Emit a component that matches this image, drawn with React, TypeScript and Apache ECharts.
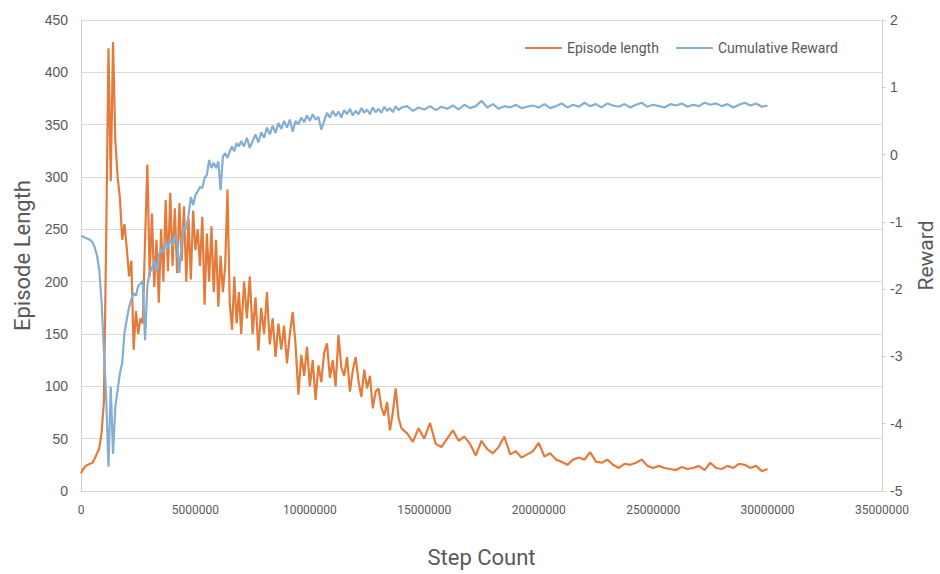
import React, { useEffect, useRef } from "react";
import * as echarts from "echarts";

// Step counts in millions (sampling grid)
const stepsM: number[] = [
  0, 0.1, 0.2, 0.3, 0.4, 0.5, 0.6, 0.7, 0.8, 0.9,
  1.0, 1.1, 1.2, 1.3, 1.4, 1.5, 1.6, 1.7, 1.8, 1.9,
  2.0, 2.1, 2.2, 2.3, 2.4, 2.5, 2.6, 2.7, 2.8, 2.9,
  3.0, 3.1, 3.2, 3.3, 3.4, 3.5, 3.6, 3.7, 3.8, 3.9,
  4.0, 4.1, 4.2, 4.3, 4.4, 4.5, 4.6, 4.7, 4.8, 4.9,
  5.0, 5.1, 5.2, 5.3, 5.4, 5.5, 5.6, 5.7, 5.8, 5.9,
  6.0, 6.1, 6.2, 6.3, 6.4, 6.5, 6.6, 6.7, 6.8, 6.9, 7.0,
  7.125, 7.25, 7.375, 7.5, 7.625, 7.75, 7.875, 8.0,
  8.125, 8.25, 8.375, 8.5, 8.625, 8.75, 8.875, 9.0,
  9.125, 9.25, 9.375, 9.5, 9.625, 9.75, 9.875, 10.0,
  10.125, 10.25, 10.375, 10.5, 10.625, 10.75, 10.875, 11.0,
  11.125, 11.25, 11.375, 11.5, 11.625, 11.75, 11.875, 12.0,
  12.125, 12.25, 12.375, 12.5, 12.625, 12.75, 12.875, 13.0,
  13.125, 13.25, 13.375, 13.5, 13.625, 13.75, 13.875, 14.0,
  14.25, 14.5, 14.75, 15.0, 15.25, 15.5, 15.75, 16.0, 16.25, 16.5,
  16.75, 17.0, 17.25, 17.5, 17.75, 18.0, 18.25, 18.5, 18.75, 19.0,
  19.25, 19.5, 19.75, 20.0, 20.25, 20.5, 20.75, 21.0, 21.25, 21.5,
  21.75, 22.0, 22.25, 22.5, 22.75, 23.0, 23.25, 23.5, 23.75, 24.0,
  24.25, 24.5, 24.75, 25.0, 25.25, 25.5, 25.75, 26.0, 26.25, 26.5,
  26.75, 27.0, 27.25, 27.5, 27.75, 28.0, 28.25, 28.5, 28.75, 29.0,
  29.25, 29.5, 29.75, 30.0,
];

const episodeLength: number[] = [
  17, 21, 24, 25, 26, 27, 31, 36, 41, 56,
  85, 240, 423, 296, 429, 335, 300, 280, 240, 255,
  232, 205, 220, 135, 172, 150, 165, 160, 240, 312,
  205, 265, 195, 240, 180, 250, 200, 278, 210, 285,
  215, 270, 208, 275, 220, 272, 200, 260, 202, 268,
  230, 250, 215, 262, 178, 246, 200, 253, 190, 240,
  176, 225, 190, 215, 288, 179, 154, 205, 160, 190, 150,
  200, 165, 205, 150, 185, 134, 175, 150,
  190, 140, 165, 128, 160, 135, 158, 122,
  150, 171, 140, 92, 130, 110, 138, 100,
  125, 87, 120, 104, 132, 141, 108, 125,
  100, 149, 118, 110, 128, 95, 115, 128,
  105, 90, 116, 98, 110, 79, 95, 98,
  80, 72, 85, 58, 75, 98, 70, 60,
  55, 47, 60, 50, 65, 45, 42, 50, 58, 48,
  52, 45, 34, 48, 40, 36, 42, 52, 35, 38,
  32, 35, 38, 46, 33, 36, 30, 28, 25, 30,
  32, 30, 37, 28, 27, 30, 25, 22, 26, 25,
  27, 30, 24, 22, 24, 22, 21, 20, 23, 21,
  22, 24, 20, 27, 22, 21, 24, 22, 26, 25,
  22, 24, 19, 21,
];

const cumulativeReward: number[] = [
  -1.21, -1.22, -1.24, -1.25, -1.27, -1.3, -1.38, -1.5, -1.72, -2.2,
  -2.9, -3.6, -4.64, -3.45, -4.45, -3.75, -3.5, -3.25, -3.1, -2.65,
  -2.45, -2.27, -2.15, -2.06, -2.1, -1.95, -1.92, -1.88, -2.76, -1.95,
  -1.75, -1.7, -1.57, -1.75, -1.5, -1.4, -1.45, -1.31, -1.4, -1.25,
  -1.35, -1.2, -1.3, -1.76, -1.3, -1.07, -1.1, -0.9, -0.63, -0.75,
  -0.6, -0.55, -0.48, -0.5, -0.35, -0.3, -0.08, -0.2, -0.12, -0.2,
  -0.1, -0.53, -0.03, 0.02, -0.05, 0.05, 0.12, 0.05, 0.17, 0.12, 0.2,
  0.12, 0.25, 0.1, 0.2, 0.3, 0.18, 0.33, 0.25,
  0.4, 0.3, 0.43, 0.32, 0.47, 0.38, 0.5, 0.4,
  0.52, 0.34, 0.5, 0.45, 0.55, 0.48, 0.58, 0.5,
  0.6, 0.52, 0.56, 0.37, 0.5, 0.62, 0.55, 0.65,
  0.57, 0.64, 0.55, 0.66, 0.6, 0.68, 0.58, 0.65,
  0.6, 0.69, 0.62, 0.67, 0.6, 0.7, 0.63, 0.68,
  0.62, 0.71, 0.65, 0.69, 0.63, 0.72, 0.66, 0.7,
  0.72, 0.65, 0.7, 0.67, 0.72, 0.66, 0.71, 0.68, 0.73, 0.67,
  0.74, 0.69, 0.72, 0.8, 0.7, 0.75, 0.68, 0.72, 0.7, 0.74,
  0.69, 0.71, 0.73, 0.7, 0.75, 0.69, 0.72, 0.76, 0.7, 0.74,
  0.71, 0.77, 0.72, 0.75, 0.7, 0.76, 0.73, 0.71, 0.75, 0.7,
  0.74, 0.77, 0.71, 0.74, 0.72, 0.7, 0.75, 0.73, 0.76, 0.71,
  0.74, 0.72, 0.77, 0.74, 0.76, 0.72, 0.75, 0.7, 0.74, 0.77,
  0.73, 0.76, 0.71, 0.73,
];

const seriesNames = ["Episode length", "Cumulative Reward"];
const axisNames = { x: "Step Count", left: "Episode Length", right: "Reward" };

const NARROW = "'Liberation Sans Narrow', 'Arial Narrow', 'Roboto', sans-serif";
const LABEL = "'Liberation Sans', 'Noto Sans', sans-serif";

export default function App() {
  const ref = useRef<HTMLDivElement>(null);

  useEffect(() => {
    document.body.style.margin = "0";
    document.body.style.overflow = "hidden";
    if (!ref.current) return;
    const chart = echarts.init(ref.current, null, { renderer: "svg", width: 940, height: 574 });
    const lenData = stepsM.map((s, i) => [s * 1e6, episodeLength[i]]);
    const rewData = stepsM.map((s, i) => [s * 1e6, cumulativeReward[i]]);

    chart.setOption({
      animation: false,
      backgroundColor: "#ffffff",
      grid: {
        left: 81,
        right: 58,
        top: 20,
        bottom: 83,
        containLabel: false,
        outerBoundsMode: "none",
      },
      legend: {
        right: 97,
        top: 36,
        icon: "rect",
        itemWidth: 37,
        itemHeight: 2,
        itemGap: 17,
        textStyle: { fontFamily: NARROW, fontSize: 14, color: "#595959" },
        data: seriesNames,
      },
      xAxis: {
        type: "value",
        min: 0,
        max: 35000000,
        interval: 5000000,
        name: axisNames.x,
        nameLocation: "middle",
        nameGap: 55,
        nameTextStyle: { fontFamily: NARROW, fontSize: 22, color: "#595959" },
        axisLine: { show: true, lineStyle: { color: "#d0d0d0", width: 1 } },
        axisTick: { show: false },
        splitLine: { show: false },
        axisLabel: {
          margin: 13,
          fontFamily: NARROW,
          fontSize: 12,
          color: "#595959",
          formatter: (v: number) => String(v),
        },
      },
      yAxis: [
        {
          type: "value",
          min: 0,
          max: 450,
          interval: 50,
          name: axisNames.left,
          nameLocation: "middle",
          nameGap: 47,
          nameRotate: 90,
          nameTextStyle: { fontFamily: NARROW, fontSize: 22, color: "#595959" },
          axisLine: { show: true, lineStyle: { color: "#d0d0d0", width: 1 } },
          axisTick: { show: false },
          splitLine: { show: true, lineStyle: { color: "#d9d9d9", width: 1 } },
          axisLabel: { margin: 13, fontFamily: LABEL, fontSize: 14, color: "#595959" },
        },
        {
          type: "value",
          min: -5,
          max: 2,
          interval: 1,
          position: "right",
          name: axisNames.right,
          nameLocation: "middle",
          nameGap: 33,
          nameRotate: 90,
          nameTextStyle: { fontFamily: NARROW, fontSize: 21, color: "#595959" },
          axisLine: { show: true, lineStyle: { color: "#d0d0d0", width: 1 } },
          axisTick: { show: true, inside: false, length: 4, lineStyle: { color: "#d0d0d0" } },
          splitLine: { show: false },
          axisLabel: { margin: 8, fontFamily: LABEL, fontSize: 14, color: "#595959" },
        },
      ],
      series: [
        {
          name: seriesNames[0],
          type: "line",
          yAxisIndex: 0,
          data: lenData,
          showSymbol: false,
          symbol: "none",
          lineStyle: { color: "#E57B3A", width: 2.2 },
          itemStyle: { color: "#E57B3A" },
        },
        {
          name: seriesNames[1],
          type: "line",
          yAxisIndex: 1,
          data: rewData,
          showSymbol: false,
          symbol: "none",
          lineStyle: { color: "#84AED4", width: 2.2 },
          itemStyle: { color: "#84AED4" },
        },
      ],
    });

    return () => chart.dispose();
  }, []);

  return (
    <div
      ref={ref}
      style={{ position: "absolute", left: 0, top: 0, width: 940, height: 574 }}
    />
  );
}
